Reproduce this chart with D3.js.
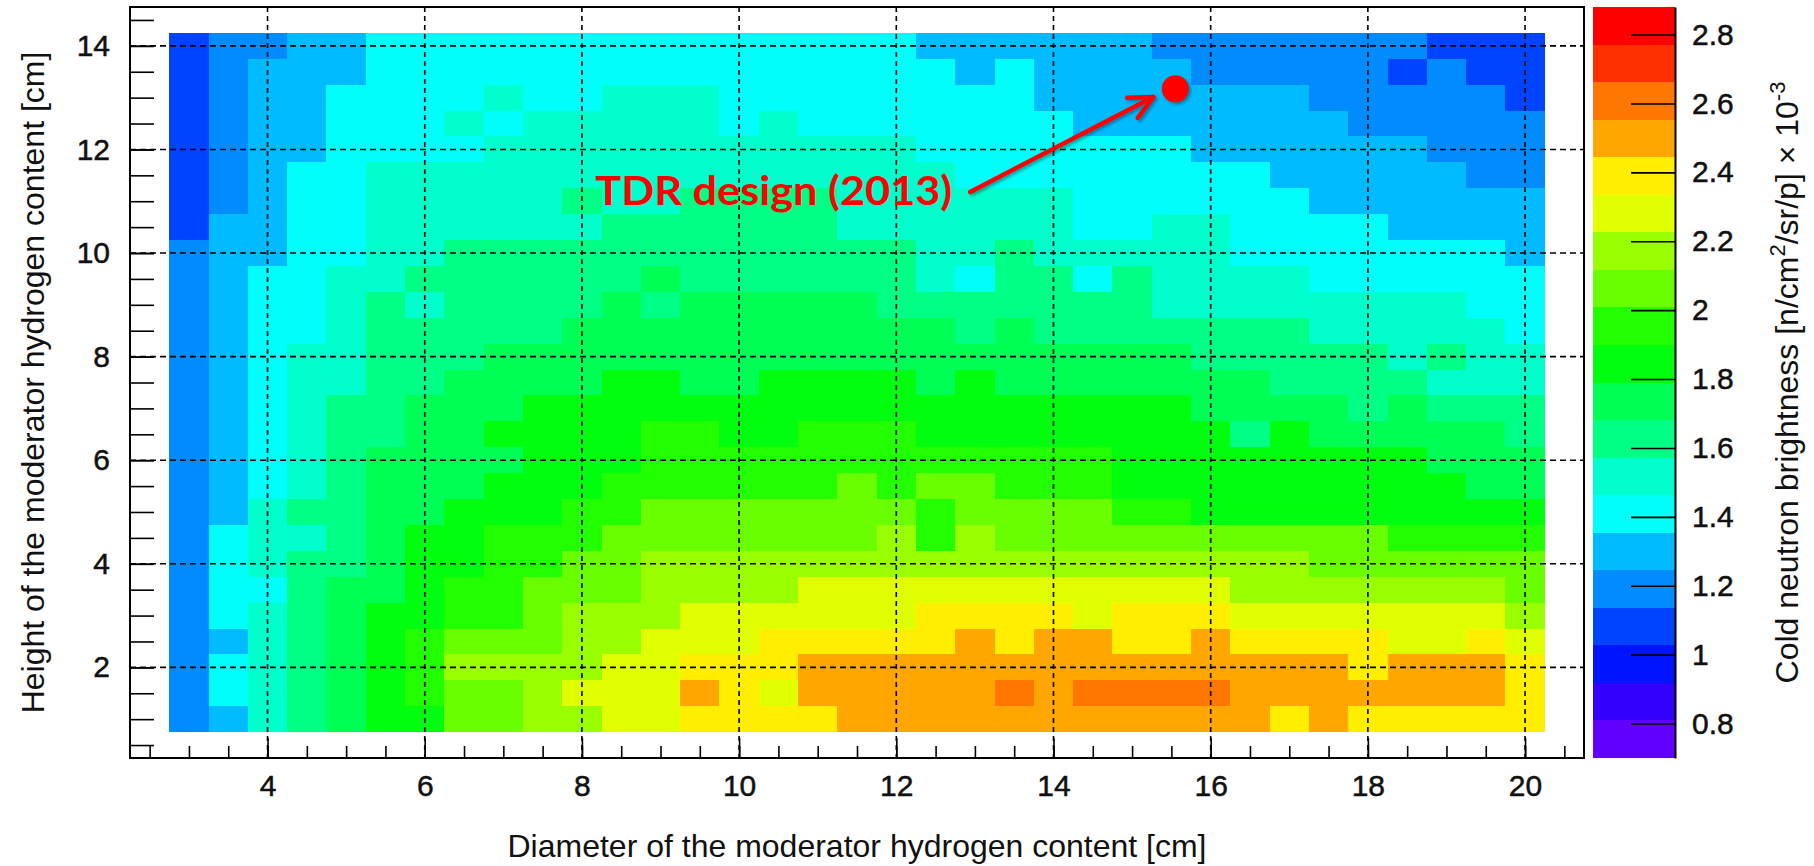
<!DOCTYPE html>
<html>
<head>
<meta charset="utf-8">
<script src="https://cdn.jsdelivr.net/npm/d3@7/dist/d3.min.js"></script>
<style>
  html, body { margin: 0; padding: 0; background: #fff; }
  svg { display: block; font-family: "Liberation Sans", Arial, Helvetica, sans-serif; }
</style>
</head>
<body>
<div id="chart"></div>
<script>
///////////////////////////////////////////////////////////// ! Data
// bin centres of the 2D histogram
const diameters = [3, 3.5, 4, 4.5, 5, 5.5, 6, 6.5, 7, 7.5, 8, 8.5, 9, 9.5, 10, 10.5, 11, 11.5,
  12, 12.5, 13, 13.5, 14, 14.5, 15, 15.5, 16, 16.5, 17, 17.5, 18, 18.5, 19, 19.5, 20];
const heights = [14, 13.5, 13, 12.5, 12, 11.5, 11, 10.5, 10, 9.5, 9, 8.5, 8, 7.5, 7, 6.5, 6,
  5.5, 5, 4.5, 4, 3.5, 3, 2.5, 2, 1.5, 1];

// brightness band, one string per height row (top row = 14 cm),
// one character per diameter bin: 0-9 then a-j for bands 10-19
const brightnessRows = [
  "34455666666666666665555554444444333",
  "34555666666666666666565555444443433",
  "34556666766777666666665555555444443",
  "34556667677777676666666555555544444",
  "34556666777777777776666666555555444",
  "34566777777777777777666666665555544",
  "34566777778778888777777666666555555",
  "35566777777888888777777667766665555",
  "45566778888888888887787777766666665",
  "45667788888898888887688687777666666",
  "45667878888989999988888887777777766",
  "45667888889999999999898888888777776",
  "45677888999999999999999999888887877",
  "45677889999aa99aaaa9a99999998888777",
  "456788999aaaaaaaaaaaaaaaaa999989888",
  "45678899aaaabbaabbbaaaaaaaa8a999998",
  "456789999aaabbbbbbbbbbbbaaaaaaaa999",
  "45678999aaabbbbbbcbccbbbaaaaaaaaa99",
  "4578899aaabbcccccccbccccbbaaaaaaaaa",
  "467789aabbbcccccccdbdccccccccccbbbb",
  "467889aabbccdddddddddddddddddcccccc",
  "466899abbcccddddeeeeeeeeeeedddddddc",
  "46789aabbcdddeeeeeeffffefffeeeeeeed",
  "45789abcccddeeefffffgfggffgffffeefe",
  "46789abddddeefffggggggggggggggfgggf",
  "46789abccdeeegfeggggghghhhhgggggggf",
  "45789aaccddeeffffgggggggggggfgfffff"
];

// middle of each of the 20 colour bands of the scale
const bandValues = [0.75, 0.86, 0.97, 1.08, 1.19, 1.30, 1.41, 1.52, 1.63, 1.74,
  1.85, 1.96, 2.07, 2.18, 2.29, 2.40, 2.51, 2.62, 2.73, 2.84];
const bandCodes = "0123456789abcdefghij";

// ROOT "pretty" palette, 20 contours
const palette = ["#6200ff", "#3300ff", "#0014ff", "#0044ff", "#008bff", "#00bbff", "#00fffb",
  "#00ffcc", "#00ff85", "#00ff55", "#00ff0e", "#22ff00", "#69ff00", "#99ff00", "#e0ff00",
  "#ffee00", "#ffa700", "#ff7700", "#ff3000", "#ff0000"];

const xTicks = [4, 6, 8, 10, 12, 14, 16, 18, 20];
const xMinorTicks = [2.5, 3, 3.5, 4, 4.5, 5, 5.5, 6, 6.5, 7, 7.5, 8, 8.5, 9, 9.5, 10, 10.5, 11,
  11.5, 12, 12.5, 13, 13.5, 14, 14.5, 15, 15.5, 16, 16.5, 17, 17.5, 18, 18.5, 19, 19.5, 20, 20.5];
const yTicks = [2, 4, 6, 8, 10, 12, 14];
const yMinorTicks = [0.5, 1, 1.5, 2, 2.5, 3, 3.5, 4, 4.5, 5, 5.5, 6, 6.5, 7, 7.5, 8, 8.5, 9, 9.5,
  10, 10.5, 11, 11.5, 12, 12.5, 13, 13.5, 14, 14.5];
const zTicks = [0.8, 1, 1.2, 1.4, 1.6, 1.8, 2, 2.2, 2.4, 2.6, 2.8];

// TDR design point and its label
const tdrPoint = { diameter: 15.55, height: 13.17 };
const tdrLabel = { diameter: 8.17, height: 10.93, text: "TDR design (2013)" };
const tdrArrow = { from: [12.94, 11.18], to: [15.27, 13.01] };

///////////////////////////////////////////////////////////// ! Setup
const W = 1814, H = 866;
const frame = { left: 130, right: 1584, top: 7, bottom: 758 };
const bar = { left: 1593, right: 1675 };
const binHalf = 0.25;
const labelFont = '"Liberation Sans", Arial, sans-serif';

const svg = d3.select("#chart").append("svg").attr("width", W).attr("height", H);

const x = d3.scaleLinear().domain([2.25, 20.75]).range([frame.left, frame.right]);
const y = d3.scaleLinear().domain([0.25, 14.75]).range([frame.bottom, frame.top]);
const zDomain = [0.70, 2.88];
const color = d3.scaleQuantize().domain(zDomain).range(palette);
const zBar = d3.scaleLinear().domain(zDomain).range([frame.bottom, frame.top]);

// flatten the rows into cells
const cells = [];
brightnessRows.forEach((row, r) => {
  row.split("").forEach((ch, c) => {
    cells.push({ d: diameters[c], h: heights[r], v: bandValues[bandCodes.indexOf(ch)] });
  });
});

const defs = svg.append("defs");
const shadow = defs.append("filter").attr("id", "shadow")
  .attr("x", "-50%").attr("y", "-50%").attr("width", "200%").attr("height", "200%");
shadow.append("feDropShadow").attr("dx", 2).attr("dy", 2).attr("stdDeviation", 1.5)
  .attr("flood-color", "#000").attr("flood-opacity", 0.35);

///////////////////////////////////////////////////////////// ! Heatmap
svg.append("g")
  .selectAll("rect")
  .data(cells)
  .join("rect")
  .attr("x", (d) => x(d.d - binHalf))
  .attr("y", (d) => y(d.h + binHalf))
  .attr("width", (d) => x(d.d + binHalf) - x(d.d - binHalf))
  .attr("height", (d) => y(d.h - binHalf) - y(d.h + binHalf))
  .attr("fill", (d) => color(d.v))
  .attr("shape-rendering", "crispEdges");

///////////////////////////////////////////////////////////// ! Grid
const grid = svg.append("g").attr("stroke", "#000").attr("stroke-width", 1.6);
grid.selectAll(".gx").data(xTicks).join("line")
  .attr("x1", (d) => x(d)).attr("x2", (d) => x(d))
  .attr("y1", frame.top).attr("y2", frame.bottom)
  .attr("stroke-dasharray", "5,4");
grid.selectAll(".gy").data(yTicks).join("line")
  .attr("y1", (d) => y(d)).attr("y2", (d) => y(d))
  .attr("x1", frame.left).attr("x2", frame.right)
  .attr("stroke-dasharray", "6,4");

///////////////////////////////////////////////////////////// ! Axes
function styleAxis(g) {
  g.select(".domain").remove();
  g.selectAll(".tick line").attr("stroke", "#000").attr("stroke-width", 1.6);
  g.selectAll(".tick text").attr("fill", "#111").attr("stroke", "#111").attr("stroke-width", 0.5)
    .style("font-size", "30px").style("font-family", labelFont);
}

svg.append("g").attr("transform", `translate(0,${frame.bottom})`)
  .call(d3.axisBottom(x).tickValues(xMinorTicks).tickSize(-12).tickFormat(""))
  .call(styleAxis);
svg.append("g").attr("transform", `translate(0,${frame.bottom})`)
  .call(d3.axisBottom(x).tickValues(xTicks).tickSize(-20).tickPadding(17).tickFormat(d3.format("d")))
  .call(styleAxis);

svg.append("g").attr("transform", `translate(${frame.left},0)`)
  .call(d3.axisLeft(y).tickValues(yMinorTicks).tickSize(-24).tickFormat(""))
  .call(styleAxis);
svg.append("g").attr("transform", `translate(${frame.left},0)`)
  .call(d3.axisLeft(y).tickValues(yTicks).tickSize(-24).tickPadding(20).tickFormat(d3.format("d")))
  .call(styleAxis);

// frame
svg.append("rect")
  .attr("x", frame.left).attr("y", frame.top)
  .attr("width", frame.right - frame.left).attr("height", frame.bottom - frame.top)
  .attr("fill", "none").attr("stroke", "#000").attr("stroke-width", 2);

// axis titles
svg.append("text")
  .attr("x", (frame.left + frame.right) / 2).attr("y", 857)
  .attr("text-anchor", "middle").style("font-size", "32px").attr("fill", "#111")
  .text("Diameter of the moderator hydrogen content [cm]");

svg.append("text")
  .attr("transform", `translate(44,${(frame.top + frame.bottom) / 2}) rotate(-90)`)
  .attr("text-anchor", "middle").style("font-size", "32px").attr("fill", "#111")
  .text("Height of the moderator hydrogen content [cm]");

///////////////////////////////////////////////////////////// ! Colour scale
const edges = [zDomain[0], ...color.thresholds(), zDomain[1]];
svg.append("g")
  .selectAll("rect")
  .data(palette)
  .join("rect")
  .attr("x", bar.left)
  .attr("width", bar.right - bar.left)
  .attr("y", (d, i) => zBar(edges[i + 1]))
  .attr("height", (d, i) => zBar(edges[i]) - zBar(edges[i + 1]))
  .attr("fill", (d) => d)
  .attr("shape-rendering", "crispEdges");

const zAxis = svg.append("g").attr("transform", `translate(${bar.right},0)`)
  .call(d3.axisRight(zBar).tickValues(zTicks).tickSize(-44).tickSizeOuter(0).tickPadding(17)
    .tickFormat((d) => String(+d.toFixed(1))));
zAxis.select(".domain").attr("stroke", "#000").attr("stroke-width", 2);
zAxis.selectAll(".tick line").attr("stroke", "#000").attr("stroke-width", 1.6);
zAxis.selectAll(".tick text").attr("fill", "#111").attr("stroke", "#111").attr("stroke-width", 0.5)
  .style("font-size", "30px").style("font-family", labelFont);

const zTitle = svg.append("text")
  .attr("transform", `translate(1798,${(frame.top + frame.bottom) / 2}) rotate(-90)`)
  .attr("text-anchor", "middle").style("font-size", "32px").attr("fill", "#111");
zTitle.append("tspan").text("Cold neutron brightness [n/cm");
zTitle.append("tspan").attr("dy", -13).style("font-size", "22px").text("2");
zTitle.append("tspan").attr("dy", 13).text("/sr/p] \u00d7 10");
zTitle.append("tspan").attr("dy", -13).style("font-size", "22px").text("-3");

///////////////////////////////////////////////////////////// ! TDR annotation
const ax0 = x(tdrArrow.from[0]), ay0 = y(tdrArrow.from[1]);
const ax1 = x(tdrArrow.to[0]), ay1 = y(tdrArrow.to[1]);
const ang = Math.atan2(ay0 - ay1, ax0 - ax1);
const headLen = 26, headSpread = 0.45;

const arrow = svg.append("g").attr("stroke", "#ff0000").attr("stroke-width", 4.5)
  .attr("stroke-linecap", "round").attr("fill", "none").attr("filter", "url(#shadow)");
arrow.append("line").attr("x1", ax0).attr("y1", ay0).attr("x2", ax1).attr("y2", ay1);
arrow.append("path").attr("d", d3.line()([
  [ax1 + headLen * Math.cos(ang + headSpread), ay1 + headLen * Math.sin(ang + headSpread)],
  [ax1, ay1],
  [ax1 + headLen * Math.cos(ang - headSpread), ay1 + headLen * Math.sin(ang - headSpread)]
])).attr("stroke-linejoin", "round");

svg.append("circle")
  .attr("cx", x(tdrPoint.diameter)).attr("cy", y(tdrPoint.height)).attr("r", 13.5)
  .attr("fill", "#ff0000").attr("filter", "url(#shadow)");

svg.append("text")
  .attr("x", x(tdrLabel.diameter)).attr("y", y(tdrLabel.height))
  .attr("fill", "#ff0000")
  .style("font-family", 'Lato, "Open Sans", sans-serif')
  .style("font-weight", "bold").style("font-size", "40px")
  .attr("textLength", 357).attr("lengthAdjust", "spacingAndGlyphs")
  .text(tdrLabel.text);
</script>
</body>
</html>
